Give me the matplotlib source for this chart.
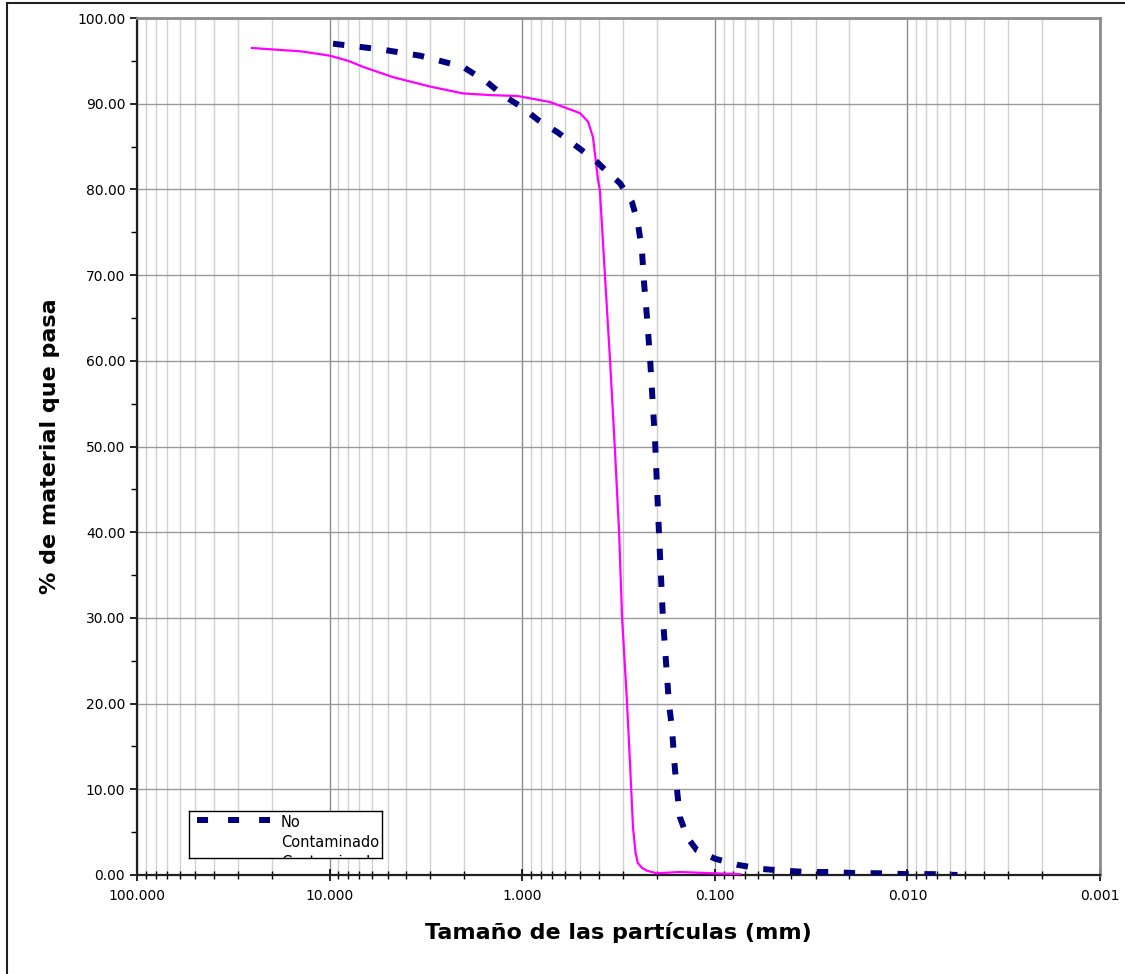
import numpy as np
import matplotlib
matplotlib.use("Agg")
import matplotlib.pyplot as plt
from matplotlib.ticker import LogLocator, FixedLocator, MultipleLocator, NullFormatter

# Curva granulometrica: tamano (mm) vs % que pasa
tam_no_cont = [9.6, 6.79, 5.28, 3.39, 2.67, 2.03, 1.52, 1.26, 0.99, 0.828, 0.659,
               0.513, 0.409, 0.372, 0.310, 0.269, 0.251, 0.239, 0.233, 0.225, 0.217,
               0.209, 0.204, 0.195, 0.186, 0.173, 0.167, 0.161, 0.152, 0.139, 0.124,
               0.0997, 0.0767, 0.0569, 0.0432, 0.0332, 0.0255, 0.0189, 0.0139, 0.0100,
               0.0072, 0.0055]
pasa_no_cont = [97.0, 96.6, 96.3, 95.6, 95.0, 94.3, 92.5, 91.0, 89.5, 88.1, 86.7,
                84.9, 83.2, 82.3, 80.7, 78.5, 76.1, 72.9, 69.1, 65.1, 60.4,
                54.3, 50.4, 40.0, 30.0, 20.0, 17.2, 12.3, 6.8, 4.4, 2.9,
                1.9, 1.2, 0.7, 0.5, 0.35, 0.35, 0.23, 0.2, 0.1,
                0.1, 0.0]

tam_cont = [25.3, 14.0, 9.95, 8.0, 6.71, 4.69, 3.01, 2.03, 1.45, 1.06, 0.718, 0.501,
            0.455, 0.429, 0.404, 0.395, 0.372, 0.350, 0.330, 0.314, 0.303, 0.286,
            0.275, 0.266, 0.258, 0.251, 0.238, 0.225, 0.200, 0.152, 0.102, 0.074]
pasa_cont = [96.5, 96.1, 95.6, 95.0, 94.3, 93.1, 92.0, 91.2, 91.0, 90.9, 90.2, 88.9,
             87.9, 86.1, 81.1, 79.9, 70.0, 60.1, 49.6, 40.0, 30.0, 20.4,
             12.6, 5.6, 2.6, 1.4, 0.8, 0.5, 0.2, 0.35, 0.2, 0.1]

y_ticks = np.arange(0, 101, 10)
x_ticks = [100, 10, 1, 0.1, 0.01, 0.001]
x_labels = ["100.000", "10.000", "1.000", "0.100", "0.010", "0.001"]

fig = plt.figure(figsize=(11.25, 9.74), dpi=100)
ax = fig.add_axes([137 / 1125, 1 - 875 / 974, 963 / 1125, 857 / 974])

ax.plot(tam_cont, pasa_cont, color="#FF00FF", lw=1.6, zorder=3)
ax.plot(tam_no_cont, pasa_no_cont, color="#000080", lw=4.3,
        dashes=(1.9, 2.6), zorder=4)

ax.set_xscale("log")
ax.set_xlim(100, 0.001)
ax.set_ylim(0, 100)

ax.xaxis.set_major_locator(FixedLocator(x_ticks))
ax.set_xticklabels(x_labels)
ax.xaxis.set_minor_locator(LogLocator(base=10, subs=np.arange(2, 10), numticks=50))
ax.xaxis.set_minor_formatter(NullFormatter())
ax.set_yticks(y_ticks)
ax.set_yticklabels([f"{v:.2f}" for v in y_ticks])
ax.yaxis.set_minor_locator(MultipleLocator(5))

ax.grid(which="major", axis="x", color="#8c8c8c", lw=1.0)
ax.grid(which="minor", axis="x", color="#d0d0d0", lw=1.0)
ax.grid(which="major", axis="y", color="#9a9a9a", lw=1.0)
ax.set_axisbelow(True)

ax.tick_params(axis="x", which="major", direction="inout", length=8, width=1.2,
               labelsize=10, pad=6)
ax.tick_params(axis="x", which="minor", direction="inout", length=6, width=1.0)
ax.tick_params(axis="y", which="major", direction="out", length=5, width=1.2,
               labelsize=10)
ax.tick_params(axis="y", which="minor", direction="out", length=4, width=1.0)

for side in ["left", "bottom"]:
    ax.spines[side].set_color("#202020")
    ax.spines[side].set_linewidth(1.6)
for side in ["top", "right"]:
    ax.spines[side].set_color("#8c8c8c")
    ax.spines[side].set_linewidth(2.0)

ax.set_xlabel("Tamaño de las partículas (mm)", fontsize=16, fontweight="bold",
              labelpad=14)
ax.set_ylabel("% de material que pasa", fontsize=16, fontweight="bold", labelpad=12)

# leyenda recortada como en el original
lg = fig.add_axes([189 / 1125, 1 - 858 / 974, 193 / 1125, 47 / 974])
lg.set_xlim(0, 193)
lg.set_ylim(47, 0)
lg.set_xticks([])
lg.set_yticks([])
for s in lg.spines.values():
    s.set_color("black")
    s.set_linewidth(1.0)
lg.plot([8, 81], [9, 9], color="#000080", lw=4.3, dashes=(1.85, 3.35),
        solid_capstyle="butt", dash_capstyle="butt")
for txt, yb in [("No", 16), ("Contaminado", 36), ("Contaminado", 56)]:
    lg.text(92, yb, txt, fontsize=10.5, va="baseline", ha="left", clip_on=True)

# marco exterior
fig.patches.append(plt.Rectangle((7 / 1125, -0.1), 1.2, 1 - 3 / 974 + 0.1,
                                 transform=fig.transFigure, fill=False,
                                 edgecolor="#202020", lw=1.5))

fig.savefig("out.png", dpi=100)
